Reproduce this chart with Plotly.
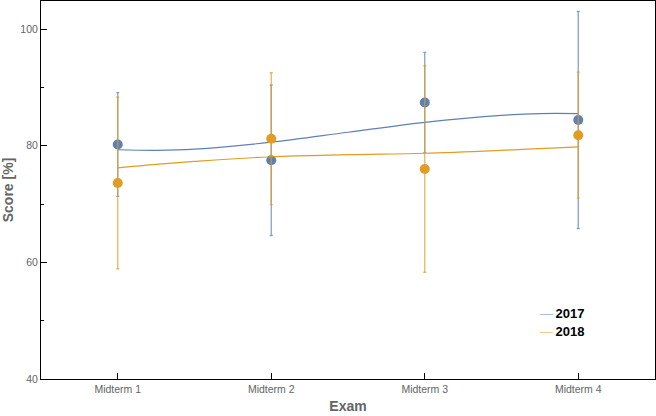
import plotly.graph_objects as go

exams = ["Midterm 1", "Midterm 2", "Midterm 3", "Midterm 4"]
exam_pos = [1, 2, 3, 4]

# mean scores and error bar half-widths
score_2017 = [80.2, 77.5, 87.4, 84.4]
err_2017 = [8.9, 12.9, 8.6, 18.6]
score_2018 = [73.6, 81.2, 76.0, 81.8]
err_2018 = [14.7, 11.3, 17.7, 10.8]

# fitted trend curves
fit_x = [1, 1.25, 1.5, 2, 2.5, 3, 3.5, 3.75, 4]
fit_2017 = [79.3, 79.2, 79.4, 80.6, 82.3, 84.0, 85.2, 85.5, 85.5]
fit_2018 = [76.2, 76.8, 77.3, 78.1, 78.45, 78.7, 79.2, 79.5, 79.8]

blue = "rgb(94,129,181)"
orange = "rgb(225,156,36)"
blue_light = "rgba(94,129,181,0.75)"
orange_light = "rgba(225,156,36,0.75)"

fig = go.Figure()

for name, y, err, fy, col, col_light in [
    ("2017", score_2017, err_2017, fit_2017, blue, blue_light),
    ("2018", score_2018, err_2018, fit_2018, orange, orange_light),
]:
    fig.add_trace(
        go.Scatter(
            x=exam_pos,
            y=y,
            mode="markers",
            error_y=dict(type="data", array=err, visible=True,
                         color=col_light, thickness=1.3, width=1.5),
            marker=dict(color=col, size=10),
            showlegend=False,
        )
    )
    fig.add_trace(
        go.Scatter(
            x=fit_x,
            y=fy,
            mode="lines",
            line=dict(color=col, width=1.2, shape="spline", smoothing=1.0),
            name=name,
            showlegend=False,
        )
    )

# legend drawn as text, Mathematica style
legend_cols = ["rgba(94,129,181,0.55)", "rgba(225,156,36,0.55)"]
for i, (name, col) in enumerate(zip(["2017", "2018"], legend_cols)):
    fig.add_annotation(
        x=0.81, y=0.173 - i * 0.047, xref="paper", yref="paper",
        xanchor="left", yanchor="middle", showarrow=False,
        text=f"<span style='color:{col}'>—</span>&#8201;<b>{name}</b>",
        font=dict(family="Liberation Sans, Arial", size=13, color="black"),
    )

axis_font = dict(family="Liberation Sans, Arial", size=10.5, color="rgb(100,100,100)")
title_font = dict(family="Liberation Sans, Arial", size=14, color="rgb(100,100,100)")

fig.update_xaxes(
    range=[0.5, 4.5],
    tickvals=exam_pos,
    ticktext=exams,
    ticks="inside",
    ticklen=6,
    tickcolor="black",
    showgrid=False,
    zeroline=False,
    showline=True,
    linecolor="black",
    linewidth=1,
    mirror=True,
    tickfont=axis_font,
    automargin=False,
    title=dict(text="<b>Exam</b>", font=title_font, standoff=7),
)
fig.update_yaxes(
    range=[40, 104.8],
    tickvals=[40, 60, 80, 100],
    ticks="inside",
    ticklen=6,
    tickcolor="black",
    minor=dict(tickvals=[50, 70, 90], ticks="inside", ticklen=3, tickcolor="black"),
    showgrid=False,
    zeroline=False,
    showline=True,
    linecolor="black",
    linewidth=1,
    mirror=True,
    tickfont=axis_font,
    automargin=False,
    title=dict(text="<b>Score [%]</b>", font=title_font, standoff=3),
)
fig.update_layout(
    width=656,
    height=416,
    margin=dict(l=41, r=1, t=1, b=37, autoexpand=False),
    paper_bgcolor="white",
    plot_bgcolor="white",
    showlegend=False,
)

# drop the browser's default body margin so the figure sits at the page corner
fig.write_html(
    "out.html",
    config={"displayModeBar": False},
    post_script="document.body.style.margin='0px';",
)
